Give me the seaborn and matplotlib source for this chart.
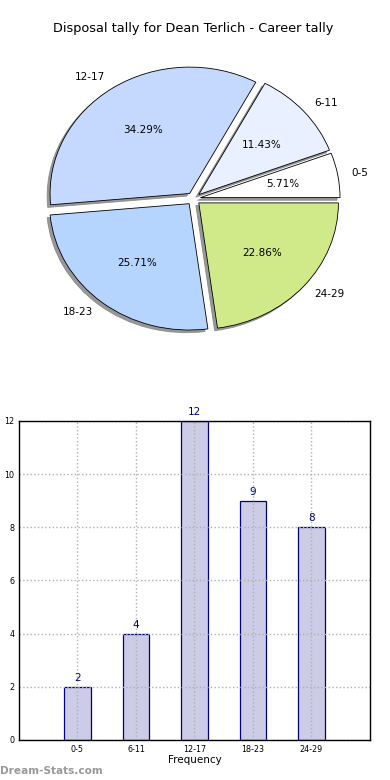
import matplotlib
matplotlib.use('Agg')
import matplotlib.pyplot as plt
import seaborn as sns
import pandas as pd

# data
bins = ['0-5', '6-11', '12-17', '18-23', '24-29']
counts = [2, 4, 12, 9, 8]
pie_colors = ['#ffffff', '#e9f0ff', '#c5d9ff', '#b5d5ff', '#d0ea8a']
title = 'Disposal tally for Dean Terlich - Career tally'

sns.set_style('white')
plt.rcParams['font.family'] = ['DejaVu Sans']
plt.rcParams['text.color'] = 'black'
plt.rcParams['axes.labelcolor'] = 'black'
plt.rcParams['xtick.color'] = 'black'
plt.rcParams['ytick.color'] = 'black'

fig = plt.figure(figsize=(3.9, 7.8), dpi=100)

# pie chart
ax1 = fig.add_axes([0.0487, 0.5427, 0.895, 0.405])
wedges, texts, autotexts = ax1.pie(counts, labels=bins, colors=pie_colors,
                                   explode=[0.05] * len(counts),
                                   shadow={'ox': -0.015, 'oy': -0.015,
                                           'facecolor': '#7f7f7f', 'edgecolor': '#7f7f7f',
                                           'alpha': 0.8},
                                   autopct='%1.2f%%', startangle=0,
                                   wedgeprops={'edgecolor': 'black', 'linewidth': 0.6},
                                   textprops={'fontsize': 7.5, 'color': 'black'})
ax1.set_aspect('auto')
ax1.set_xlim(-1.25, 1.25)
ax1.set_ylim(-1.25, 1.25)
ax1.set_title(title, fontsize=9.3, color='black')

# bar chart
df = pd.DataFrame({'bin': bins, 'count': counts})
ax2 = fig.add_axes([0.0487, 0.0513, 0.9, 0.409])
sns.barplot(data=df, x='bin', y='count', color='#cccce6', saturation=1,
            width=0.45, edgecolor='navy', linewidth=0.9, ax=ax2)
ax2.set_xlim(-1, 5)
ax2.set_ylim(0, 12)
ax2.set_yticks(range(0, 13, 2))
ax2.grid(True, linestyle=':', color='#b0b0b0', linewidth=1)
ax2.set_axisbelow(False)
for s in ax2.spines.values():
    s.set_color('black')
    s.set_linewidth(1)
    s.set_zorder(5)
ax2.tick_params(labelsize=5.8, length=2, direction='in')
for i, v in enumerate(counts):
    ax2.text(i, v + 0.15, str(v), ha='center', va='bottom', color='navy', fontsize=7.5)
ax2.set_xlabel('Frequency', fontsize=7.5, labelpad=1)
ax2.set_ylabel('Number of games', fontsize=7.5)
ax2.yaxis.set_label_coords(-0.07, 0.5)

fig.text(0.0, 0.005, 'Dream-Stats.com', color='#999999', fontsize=7.6,
         fontweight='bold', ha='left', va='bottom')

fig.savefig('out.png', dpi=100)
